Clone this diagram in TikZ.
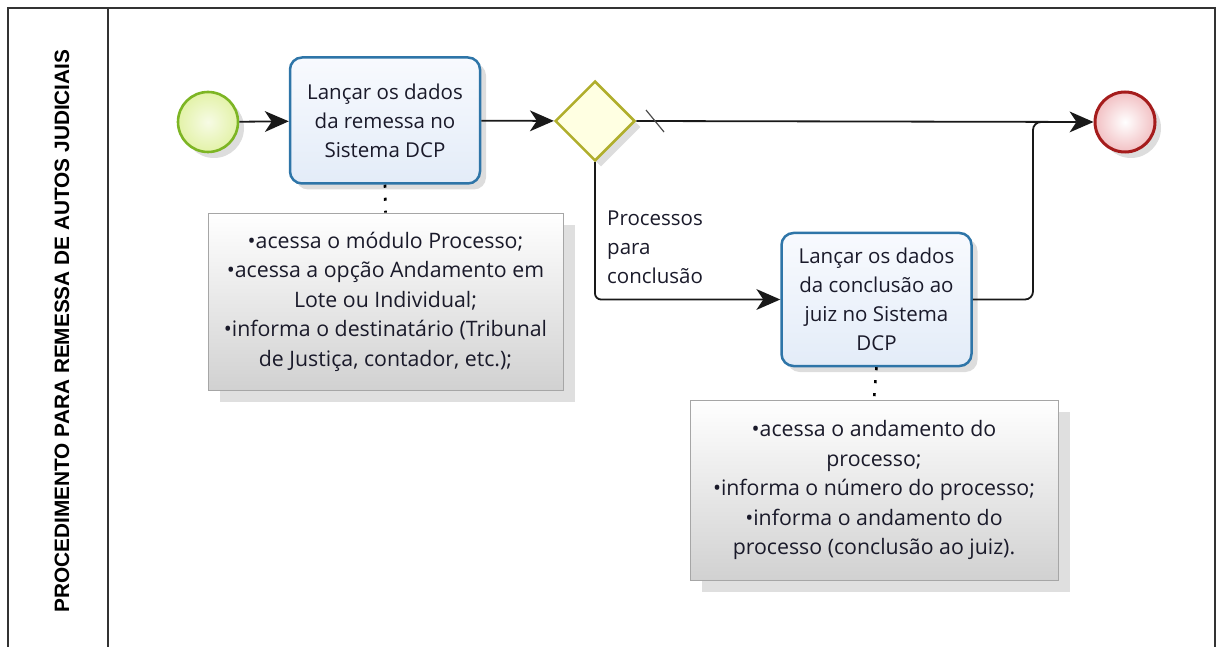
\documentclass[tikz,border=0pt]{standalone}
\usepackage{fontspec}
\setmainfont{Open Sans}
\newfontfamily\lanefont{Liberation Sans}
\usetikzlibrary{shapes.geometric,arrows.meta,shadows}
\definecolor{startline}{HTML}{7DB524}
\definecolor{startfill}{HTML}{E3F2A8}
\definecolor{taskline}{HTML}{2E75A8}
\definecolor{taskfillA}{HTML}{F8FAFE}
\definecolor{taskfillB}{HTML}{E3ECF8}
\definecolor{gwline}{HTML}{B0AE2C}
\definecolor{gwfill}{HTML}{FFFFE2}
\definecolor{endline}{HTML}{A51C1C}
\definecolor{endfill}{HTML}{F2C0C3}
\definecolor{txt}{HTML}{1A1A2A}
\tikzset{
  softshadow/.style={drop shadow={opacity=0.22,shadow xshift=6pt,shadow yshift=-6pt,fill=black!60}},
  eventstart/.style={circle,minimum size=60pt,line width=2.6pt,draw=startline,inner color=startfill!30!white,outer color=startfill,softshadow},
  eventend/.style={circle,minimum size=60pt,line width=3pt,draw=endline,inner color=white,outer color=endfill,softshadow},
  taskbox/.style={rectangle,rounded corners=12pt,minimum width=190pt,minimum height=126pt,line width=2.5pt,draw=taskline,top color=taskfillA,bottom color=taskfillB,align=center,text=txt,font=\fontsize{20.5}{29}\selectfont,inner sep=2pt,softshadow},
  gatebox/.style={diamond,minimum width=80pt,minimum height=80pt,inner sep=0pt,line width=2.5pt,draw=gwline,fill=gwfill,softshadow},
  notebox/.style={rectangle,draw=black!35,line width=0.8pt,top color=white,bottom color=black!18,align=center,text=txt,font=\fontsize{21.3}{29.5}\selectfont,inner sep=2pt,drop shadow={opacity=0.25,shadow xshift=12pt,shadow yshift=-12pt,fill=black!50}},
  flow/.style={line width=1.8pt,draw=black!90,-{Stealth[length=24pt,width=21pt,inset=7pt,line width=0pt]}},
  plainflow/.style={line width=1.8pt,draw=black!90},
  assoc/.style={line width=2.6pt,draw=black,dash pattern=on 3pt off 10pt},
  framepen/.style={line width=1.4pt,draw=black!80}
}
\begin{document}
\begin{tikzpicture}[x=1pt,y=-1pt]
\useasboundingbox (0,0) rectangle (1219,647);
% pool frame
\draw[framepen] (8,647) -- (8,8) -- (1215,8) -- (1215,647);
\draw[framepen] (108,8) -- (108,647);
\node[rotate=90,font=\lanefont\bfseries\fontsize{20.8}{22}\selectfont] (lane) at (62,331) {PROCEDIMENTO PARA REMESSA DE AUTOS JUDICIAIS};
% nodes
\node[eventstart] (start) at (208,122) {};
\node[taskbox] (t1) at (385,120.5) {Lançar os dados\\da remessa no\\Sistema DCP};
\node[gatebox] (gw) at (595,121) {};
\node[eventend] (end) at (1125,122) {};
\node[taskbox,minimum height=133pt] (t2) at (876.5,299.5) {Lançar os dados\\da conclusão ao\\juiz no Sistema\\DCP};
\node[notebox,minimum width=355pt,minimum height=177pt] (n1) at (385.5,301.5) {•acessa o módulo Processo;\\•acessa a opção Andamento em\\Lote ou Individual;\\•informa o destinatário (Tribunal\\de Justiça, contador, etc.);};
\node[notebox,minimum width=368pt,minimum height=180pt] (n2) at (874,490) {•acessa o andamento do\\processo;\\•informa o número do processo;\\•informa o andamento do\\processo (conclusão ao juiz).};
\coordinate (j) at (1033,122);
% flows
\draw[flow] (start) -- (t1);
\draw[flow] (t1) -- (gw);
\draw[flow] (gw.east) -- (end.west);
\draw[line width=1.2pt,draw=black!70] (646,110) -- (664,132);
\draw[flow,rounded corners=6pt] (gw.south) |- (t2.west);
\draw[plainflow,rounded corners=8pt] (t2.east) -| (j) -- ++(12,0);
\node[anchor=north west,align=left,text=txt,font=\fontsize{20.5}{29}\selectfont,inner sep=0pt] (lbl) at (607,211) {Processos\\para\\conclusão};
% associations
\draw[assoc] (t1.south) -- (n1.north);
\draw[assoc] (t2.south) -- (n2.north);
\end{tikzpicture}
\end{document}
